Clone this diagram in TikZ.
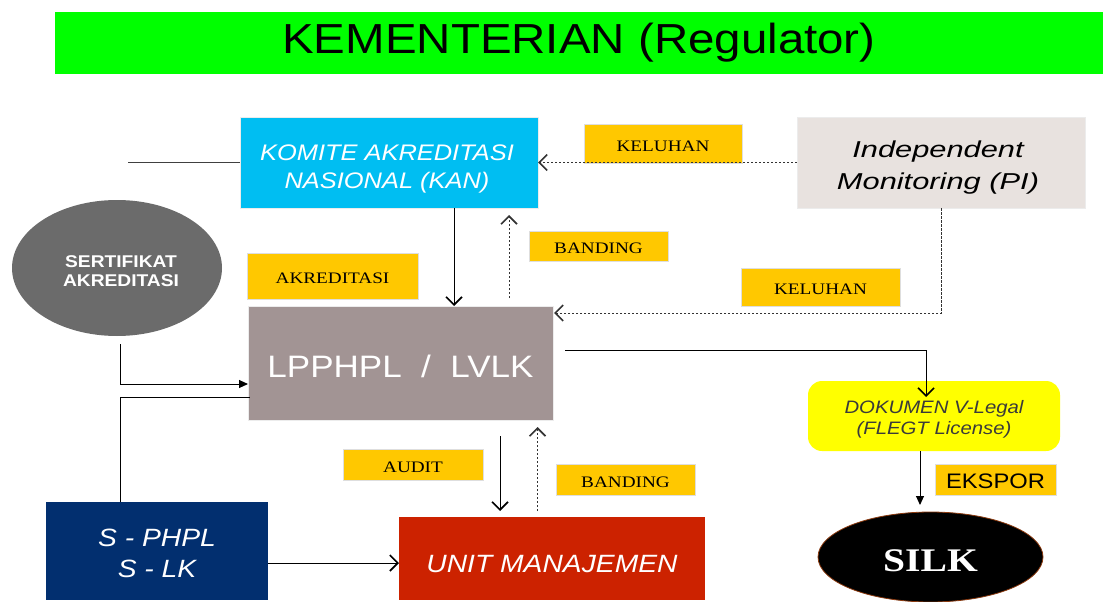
\documentclass[tikz,border=0pt]{standalone}
\usepackage{fontspec}
\setmainfont{Liberation Serif}[FakeStretch=1.2]
\newfontfamily\arial{Liberation Sans}[FakeStretch=1.13]
\newfontfamily\imfont{Liberation Sans}[FakeStretch=1.34]
\usetikzlibrary{arrows.meta,calc,shapes.geometric}
\definecolor{bannergreen}{HTML}{00FF00}
\definecolor{kancyan}{HTML}{00BEF2}
\definecolor{imgray}{HTML}{E8E2DF}
\definecolor{lblyellow}{HTML}{FFC800}
\definecolor{lblborder}{HTML}{DEDEDE}
\definecolor{lppgray}{HTML}{A29494}
\definecolor{sertgray}{HTML}{6B6B6B}
\definecolor{navyblue}{HTML}{022F6F}
\definecolor{unitred}{HTML}{CC2200}
\definecolor{dokyellow}{HTML}{FFFF00}
\definecolor{silkborder}{HTML}{8B3A0F}
\definecolor{doktext}{HTML}{3A3A3A}
\definecolor{linegray}{HTML}{404040}
\tikzset{
  rect/.style={inner sep=0pt, outer sep=0pt, align=center},
  lbl/.style={rect, fill=lblyellow, draw=lblborder, line width=0.8pt, text depth=0pt, text height=15.6pt,
    font=\fontsize{16}{18}\selectfont},
  conn/.style={draw=linegray, line width=1pt},
  dconn/.style={draw=black!80, line width=0.9pt, dash pattern=on 2.5pt off 1.5pt},
  chev/.style={-{Straight Barb[length=8pt,width=16pt,line width=1.6pt]}},
  tri/.style={-{Triangle[length=9pt,width=8pt]}, draw=black}
}
\begin{document}
\begin{tikzpicture}[x=1pt,y=-1pt]
\useasboundingbox (0,0) rectangle (1103,602);
% banner
\node[rect, fill=bannergreen, minimum width=1048pt, minimum height=62pt,
  font=\arial\fontsize{42}{44}\selectfont] (banner) at (579,43) {KEMENTERIAN (Regulator)};
% boxes
\node[rect, fill=kancyan, draw=white!85!gray, line width=0.6pt, minimum width=298pt, minimum height=91pt] (kan) at (389,162.5) {};
\node[rect, text=white, font=\arial\itshape\fontsize{22.5}{28}\selectfont] (kantext) at ($(kan.center)+(-2,6)$)
  {KOMITE AKREDITASI\\NASIONAL (KAN)};
\node[rect, fill=imgray, draw=white!85!gray, line width=0.6pt, minimum width=288pt, minimum height=91pt] (im) at (941,162.5) {};
\node[rect, text=black, font=\imfont\itshape\fontsize{23}{32}\selectfont] (imtext) at ($(im.center)+(-3,5.5)$)
  {Independent\\Monitoring (PI)};
\node[rect, ellipse, fill=sertgray, minimum width=210pt, minimum height=136pt] (sert) at (117,268) {};
\node[rect, text=white, font=\arial\bfseries\fontsize{17}{19.5}\selectfont] (serttext) at ($(sert.center)+(4,3)$)
  {SERTIFIKAT\\AKREDITASI};
\node[rect, fill=lppgray, draw=white!85!gray, line width=0.6pt, minimum width=305pt, minimum height=114pt,
  text=white, text height=28.2pt, text depth=0pt, font=\arial\fontsize{31}{36}\selectfont] (lpp) at (400.5,363)
  {LPPHPL~~/~~LVLK};
\node[rect, fill=dokyellow, rounded corners=14pt, minimum width=252pt, minimum height=70pt] (dok) at (934,416) {};
\node[rect, text=doktext, font=\arial\itshape\fontsize{18}{21}\selectfont] (doktext) at ($(dok.center)+(0,3)$)
  {DOKUMEN V-Legal\\(FLEGT License)};
\node[rect, ellipse, fill=black, draw=silkborder, line width=0.8pt, minimum width=225pt, minimum height=90pt,
  text=white, text height=29.8pt, text depth=0pt, font=\bfseries\fontsize{33}{36}\selectfont] (silk) at (930.5,557) {SILK};
\node[rect, fill=navyblue, minimum width=222pt, minimum height=98pt] (sphpl) at (157,551) {};
\node[rect, text=white, font=\arial\itshape\fontsize{25}{31}\selectfont] (sphpltext) at ($(sphpl.center)+(0,2)$)
  {S - PHPL\\S - LK};
\node[rect, fill=unitred, minimum width=306pt, minimum height=83pt,
  text=white, text height=28.9pt, text depth=0pt, font=\arial\itshape\fontsize{25}{30}\selectfont] (unit) at (552,558.5)
  {UNIT MANAJEMEN};
% labels
\node[lbl, minimum width=158pt, minimum height=39pt] (kel1) at (663,143.5) {KELUHAN};
\node[lbl, minimum width=171pt, minimum height=46pt] (akr) at (332.5,276) {AKREDITASI};
\node[lbl, minimum width=139pt, minimum height=30pt] (ban1) at (598.5,246) {BANDING};
\node[lbl, minimum width=159pt, minimum height=38pt] (kel2) at (820.5,287) {KELUHAN};
\node[lbl, minimum width=121pt, minimum height=31pt, text height=17.6pt, font=\arial\fontsize{21}{24}\selectfont] (eks) at (995.5,479.5) {EKSPOR};
\node[lbl, minimum width=140pt, minimum height=31pt] (audit) at (413,464.5) {AUDIT};
\node[lbl, minimum width=139pt, minimum height=31pt] (ban2) at (625.5,479.5) {BANDING};
% connectors
\coordinate (kanfree) at (128,162.5);
\draw[conn] (kanfree) -- (kan.west);
\draw[dconn, chev] (im.west) -- (kan.east);
\draw[conn, chev, draw=black] ($(kan.south)+(65,0)$) -- ($(lpp.north)+(53.5,0)$);
\draw[dconn, chev] ($(lpp.north)+(108.5,-8)$) -- ($(kan.south)+(120,7)$);
\draw[dconn, chev] (im.south) |- ($(lpp.east)+(1,-50)$);
\draw[conn, chev, draw=black] ($(lpp.east)+(12,-13)$) -| ($(dok.north)+(-8,16)$);
\draw[conn, tri] ($(dok.south)+(-14,0)$) -- ($(dok.south |- silk.north)+(-14,-7)$);
\draw[conn, tri] ($(sert.south)+(3,8)$) |- ($(lpp.west)+(0,21)$);
\draw[conn, draw=black] ($(sphpl.north)+(-37,0)$) |- ($(lpp.west)+(2,34)$);
\draw[conn, chev, draw=black] ($(sphpl.east)+(0,12)$) -- ($(unit.west)+(0,4.5)$);
\draw[conn, chev, draw=black] ($(lpp.south)+(99.5,16)$) -- ($(unit.north)+(-52,-6)$);
\draw[dconn, chev] ($(unit.north)+(-14.5,-6)$) -- ($(lpp.south)+(137,7)$);
\end{tikzpicture}
\end{document}
